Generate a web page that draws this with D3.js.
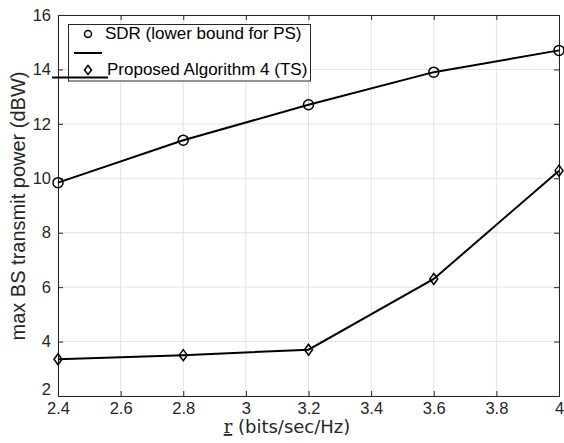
<!DOCTYPE html>
<html><head><meta charset="utf-8">
<script src="https://cdn.jsdelivr.net/npm/d3@7"></script>
<style>body{margin:0;background:#fff}svg{display:block}text{font-family:"Liberation Sans",Arial,sans-serif}</style>
</head><body>
<svg id="c" width="564" height="443"></svg>
<script>
const rates = [2.4, 2.8, 3.2, 3.6, 4.0];
const sdrPower = [9.84, 11.40, 12.70, 13.90, 14.70];
const tsPower = [3.35, 3.50, 3.70, 6.30, 10.28];
const xTicks = [2.4, 2.6, 2.8, 3.0, 3.2, 3.4, 3.6, 3.8, 4.0];
const yTicks = [2, 4, 6, 8, 10, 12, 14, 16];
const legendLabels = ["SDR (lower bound for PS)", "Proposed Algorithm 4 (TS)"];

const svg = d3.select("#c");
const L = 58, R = 559, T = 15, B = 396;
const x = d3.scaleLinear().domain([2.4, 4]).range([L, R]);
const y = d3.scaleLinear().domain([2, 16]).range([B, T]);
const axisCol = "#262626";

// grid
const g = svg.append("g");
g.selectAll(".gx").data(xTicks).enter().append("line")
  .attr("x1", d => x(d)).attr("x2", d => x(d)).attr("y1", T).attr("y2", B)
  .attr("stroke", "#e3e3e3").attr("stroke-width", 1);
g.selectAll(".gy").data(yTicks).enter().append("line")
  .attr("y1", d => y(d)).attr("y2", d => y(d)).attr("x1", L).attr("x2", R)
  .attr("stroke", "#e3e3e3").attr("stroke-width", 1);

// axes
const fmt = d => String(+d.toFixed(1));
const xb = svg.append("g").attr("transform", `translate(0,${B})`)
  .call(d3.axisBottom(x).tickValues(xTicks).tickSize(-5).tickPadding(6).tickFormat(fmt));
const xt = svg.append("g").attr("transform", `translate(0,${T})`)
  .call(d3.axisTop(x).tickValues(xTicks).tickSize(-5).tickFormat(""));
const yl = svg.append("g").attr("transform", `translate(${L},0)`)
  .call(d3.axisLeft(y).tickValues(yTicks).tickSize(-5).tickPadding(7));
const yr = svg.append("g").attr("transform", `translate(${R},0)`)
  .call(d3.axisRight(y).tickValues(yTicks).tickSize(-5).tickFormat(""));
[xb, xt, yl, yr].forEach(a => {
  a.attr("font-size", null).attr("font-family", null);
  a.selectAll("path").attr("stroke", axisCol).attr("stroke-width", 1);
  a.selectAll("line").attr("stroke", axisCol);
  a.selectAll("text").attr("fill", axisCol).style("font-size", "16.5px").style("font-family", '"Liberation Sans",Arial,sans-serif');
});
// lowest y label sits slightly above its tick (as in the reference)
yl.selectAll(".tick").filter(d => d === yTicks[0]).select("text").attr("dy", "0.32em").attr("y", -7);

// lines
const line = d3.line().x((d, i) => x(rates[i])).y(d => y(d));
svg.append("path").datum(sdrPower).attr("d", line).attr("fill", "none").attr("stroke", "#000").attr("stroke-width", 2);
svg.append("path").datum(tsPower).attr("d", line).attr("fill", "none").attr("stroke", "#000").attr("stroke-width", 2);

svg.selectAll(".c1").data(sdrPower).enter().append("circle")
  .attr("cx", (d, i) => x(rates[i])).attr("cy", d => y(d)).attr("r", 5)
  .attr("fill", "none").attr("stroke", "#000").attr("stroke-width", 1.5);
const diamond = (cx, cy, w, h) => `M${cx},${cy - h}L${cx + w},${cy}L${cx},${cy + h}L${cx - w},${cy}Z`;
svg.selectAll(".d1").data(tsPower).enter().append("path")
  .attr("d", (d, i) => diamond(x(rates[i]), y(d), 4, 5.5))
  .attr("fill", "none").attr("stroke", "#000").attr("stroke-width", 1.5);

// legend
const lg = svg.append("g");
lg.append("rect").attr("x", 68.5).attr("y", 24.5).attr("width", 242).attr("height", 56.5)
  .attr("fill", "#fff").attr("stroke", axisCol).attr("stroke-width", 1);
lg.append("circle").attr("cx", 88).attr("cy", 34).attr("r", 3.5)
  .attr("fill", "none").attr("stroke", "#000").attr("stroke-width", 1.5);
lg.append("text").attr("x", 105).attr("y", 39).text(legendLabels[0]).style("font-size", "17px").attr("fill", "#000");
lg.append("line").attr("x1", 74).attr("x2", 102).attr("y1", 53).attr("y2", 53).attr("stroke", "#000").attr("stroke-width", 2);
lg.append("path").attr("d", diamond(88, 70, 3.5, 4.5)).attr("fill", "none").attr("stroke", "#000").attr("stroke-width", 1.5);
lg.append("text").attr("x", 107).attr("y", 75).text(legendLabels[1]).style("font-size", "17px").attr("fill", "#000");
lg.append("line").attr("x1", 52).attr("x2", 108).attr("y1", 77.5).attr("y2", 77.5).attr("stroke", "#000").attr("stroke-width", 2);

// axis labels
const xlab = svg.append("text").attr("x", 287).attr("y", 433).attr("text-anchor", "middle")
  .style("font-size", "18px").style("font-family", '"DejaVu Sans",sans-serif').attr("fill", axisCol);
xlab.append("tspan").text("r").style("text-decoration", "underline").style("font-family", '"DejaVu Serif",serif');
xlab.append("tspan").text(" (bits/sec/Hz)");
svg.append("text").attr("transform", `translate(25,206) rotate(-90)`).attr("text-anchor", "middle")
  .style("font-size", "20px").attr("fill", axisCol).text("max BS transmit power (dBW)");
</script>
</body></html>
